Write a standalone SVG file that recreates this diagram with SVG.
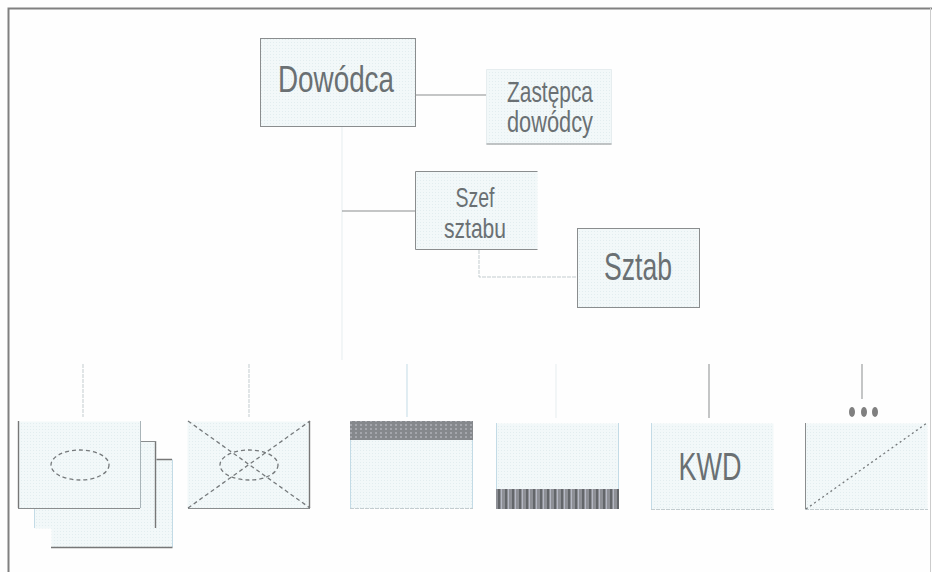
<svg xmlns="http://www.w3.org/2000/svg" width="932" height="572" viewBox="0 0 932 572">
<defs>
<pattern id="halftone" width="3" height="3" patternUnits="userSpaceOnUse"><rect width="3" height="3" fill="#f2f8f9"/><rect width="1" height="1" fill="#e2edef"/></pattern>
<pattern id="darkband" width="5" height="4" patternUnits="userSpaceOnUse"><rect width="5" height="4" fill="#85888c"/><rect width="2" height="2" fill="#a4a6ac"/></pattern>
<pattern id="barband" width="7" height="4" patternUnits="userSpaceOnUse"><rect width="7" height="4" fill="#8e9096"/><rect x="1" width="2" height="4" fill="#63666a"/><rect x="4" width="1" height="4" fill="#b5b8c4"/></pattern>
</defs>
<style>
text{font-family:"Liberation Sans",Arial,sans-serif;fill:#6a7073;text-anchor:middle}
.box{fill:url(#halftone)}
.edge{fill:none;stroke:#8a8d8e;stroke-width:1}
.soft{fill:none;stroke:#c3cccf;stroke-width:1;stroke-dasharray:4 1}
.pale{fill:none;stroke:#e6edef;stroke-width:1}
.mid{fill:none;stroke:#a9b4b8;stroke-width:1}
.dark{fill:none;stroke:#777;stroke-width:1.400}
.blue{fill:none;stroke:#c3dbe6;stroke-width:1}
.dash{fill:none;stroke:#75797b;stroke-width:1.300;stroke-dasharray:4 3}
</style>
<rect width="932" height="572" fill="#fefefe"/>
<g id="frame"><path d="M8.500 572V8.500H932" fill="none" stroke="#808080" stroke-width="2"/><path d="M930.500 8V572" fill="none" stroke="#ccc" stroke-width="1"/></g>
<g id="connectors">
<path class="pale" d="M342 126V360"/>
<path class="edge" d="M342 211H415"/>
<path class="edge" d="M415 95H486"/>
<path class="soft" d="M479 250V277H577"/>
<path class="soft" d="M83 364V417"/>
<path class="soft" d="M249 364V417"/>
<path class="blue" d="M407 364V417"/>
<path class="pale" d="M556 364V418"/>
<path class="edge" d="M709 364V418"/>
<path class="edge" d="M862 364V399"/>
</g>
<g id="dowodca"><rect class="box" x="260.500" y="38.500" width="155" height="88"/><rect class="edge" x="260.500" y="38.500" width="155" height="88"/><text x="336" y="92" font-size="37" textLength="116" lengthAdjust="spacingAndGlyphs">Dowódca</text></g>
<g id="zastepca"><rect class="box" x="486.500" y="69.500" width="125" height="75"/><path class="pale" d="M486.500 69.500V144.500M486.500 69.500H611.500M611.500 69.500V144.500"/><path class="edge" d="M486.500 144H611.500"/><text x="550" y="102" font-size="30" textLength="86" lengthAdjust="spacingAndGlyphs">Zastępca</text><text x="550" y="132" font-size="30" textLength="86" lengthAdjust="spacingAndGlyphs">dowódcy</text></g>
<g id="szef"><rect class="box" x="415.500" y="171.500" width="122" height="78"/><path class="edge" d="M537.500 171.500H415.500V249.500H537.500"/><text x="475" y="207" font-size="28" textLength="39" lengthAdjust="spacingAndGlyphs">Szef</text><text x="475" y="238" font-size="28" textLength="62" lengthAdjust="spacingAndGlyphs">sztabu</text></g>
<g id="sztab"><rect class="box" x="577.500" y="228.500" width="122" height="79"/><rect class="edge" x="577.500" y="228.500" width="122" height="79"/><text x="638" y="280" font-size="39" textLength="68" lengthAdjust="spacingAndGlyphs">Sztab</text></g>
<g id="unit1">
<rect class="box" x="51.500" y="459.500" width="121" height="88"/><path class="blue" d="M172.500 459.500V547"/><path class="dark" d="M51 547.500H172.500M156 459.500H172"/>
<rect class="box" x="34.500" y="441.500" width="122" height="87"/><path class="dark" d="M155.500 441V528"/><path class="edge" d="M140 441.500H156"/><path class="blue" d="M34.500 508V528"/>
<rect class="box" x="18.500" y="421.500" width="122" height="87"/><path class="dark" d="M18.500 421V508"/><path class="edge" d="M18 508.500H140"/><path class="mid" d="M140.500 421V508"/>
<ellipse class="dash" cx="80" cy="465" rx="29" ry="15"/>
</g>
<g id="unit2"><rect class="box" x="187.500" y="421.500" width="122" height="87"/><path class="dark" d="M309.500 421V508"/><path class="edge" d="M188 508.500H310"/><ellipse class="dash" cx="249" cy="465" rx="29" ry="15"/><path class="dash" d="M188 421L310 508M188 508L310 421"/></g>
<g id="unit3"><rect class="box" x="350.500" y="421.500" width="122" height="87"/><path class="blue" d="M350.500 440V508M472.500 440V508"/><path class="soft" d="M350 508.500H473"/><rect x="350" y="421" width="123" height="19" fill="url(#darkband)"/></g>
<g id="unit4"><rect class="box" x="496.500" y="423.500" width="122" height="85"/><path class="blue" d="M496.500 423V489M618.500 423V489"/><rect x="496" y="489" width="123" height="20" fill="url(#barband)"/></g>
<g id="unit5"><rect class="box" x="651.500" y="423.500" width="122" height="86"/><path class="blue" d="M651.500 423V509"/><path class="soft" d="M651 509.500H774"/><text x="710" y="480" font-size="39" textLength="63" lengthAdjust="spacingAndGlyphs">KWD</text></g>
<g id="unit6"><rect class="box" x="805.500" y="423.500" width="122" height="86"/><path class="edge" d="M805.500 423V509"/><path class="soft" d="M805 509.500H928"/><path class="dash" style="stroke-dasharray:2 3" d="M806 509L927 423"/>
<ellipse cx="852" cy="412" rx="3" ry="5" fill="#808080"/><ellipse cx="864" cy="412" rx="3" ry="5" fill="#808080"/><ellipse cx="875" cy="412" rx="3" ry="5" fill="#808080"/></g>
</svg>
